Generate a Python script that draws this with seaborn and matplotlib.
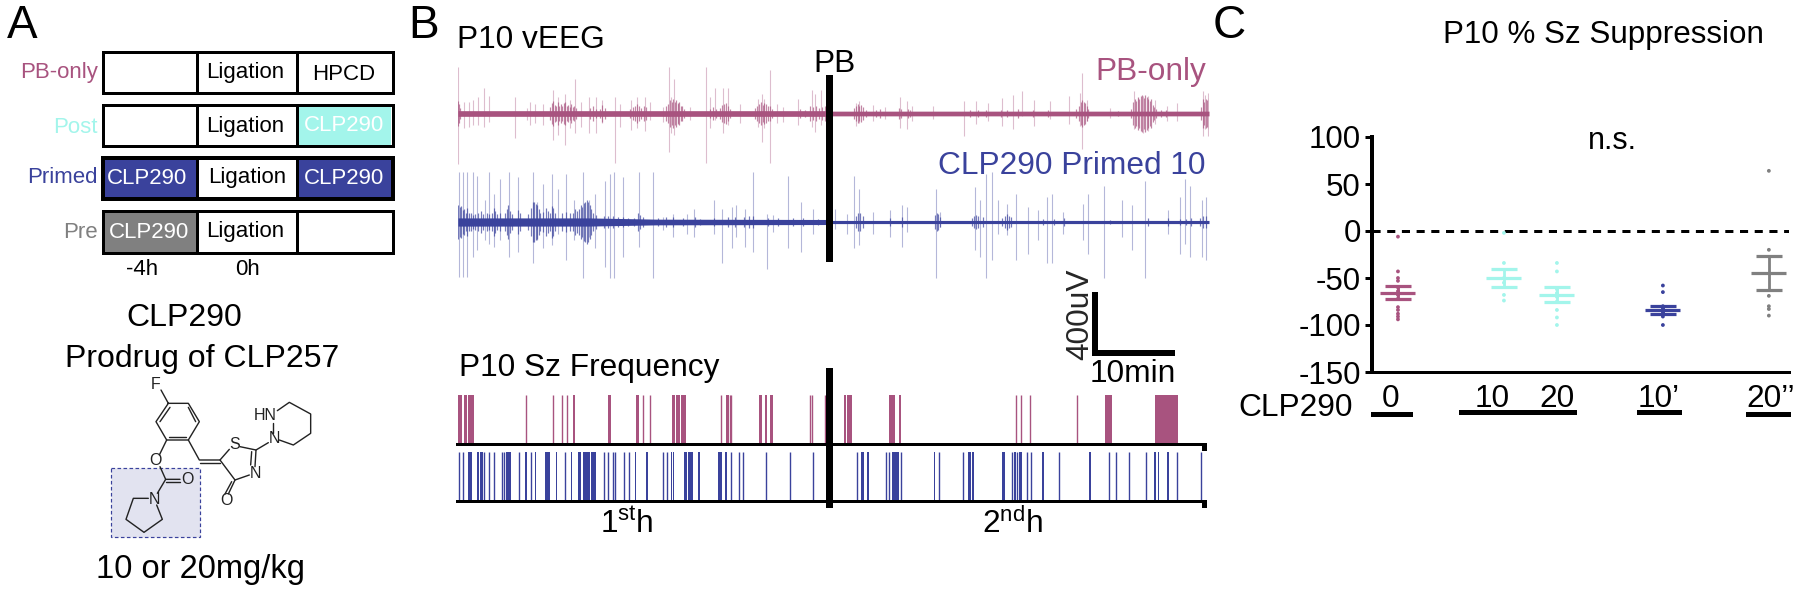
import matplotlib
matplotlib.use("Agg")
import numpy as np
import pandas as pd
import matplotlib.pyplot as plt
import seaborn as sns
from matplotlib.patches import Rectangle

PINK = "#A8537F"
BLUE = "#3A429C"
CYAN = "#A3F5EB"
GREY = "#808080"

# panel C, % seizure suppression
dose_pos = [0, 2, 3, 5, 7]
dose_colors = [PINK, CYAN, CYAN, BLUE, GREY]
supp_0 = [-6, -43, -50, -53, -60, -64, -68, -72, -81, -84, -88, -91, -94]
supp_10 = [-2, -34, -50, -55, -68, -74]
supp_20 = [-34, -43, -62, -66, -70, -75, -84, -92, -100]
supp_10p = [-58, -65, -80, -82, -84, -86, -88, -91, -100]
supp_20pp = [64, -20, -69, -80, -83, -90]
supp_mean = [-65.6, -50, -67.7, -83.7, -44.7]
supp_sem_hi = [-58.5, -40, -59.6, -79.8, -26.6]
supp_sem_lo = [-72.7, -59.6, -76, -88, -62.8]
supp_ticks = [-150, -100, -50, 0, 50, 100]

# panel B, seizure raster (time in trace units, 751 = end of recording)
pink_sz_runs = [(0.3, 3.7), (6.3, 8.7), (10.3, 16), (115.3, 117.3), (150.3, 153), (178, 181.3),
                (213.7, 217), (218, 222), (223, 227.7), (267.7, 270.7), (301.3, 304.3),
                (307.3, 309.3), (312.3, 314.7), (386, 388), (389.3, 394.3), (431.3, 437),
                (441, 443), (647.3, 653.7), (697, 719.7)]
pink_sz_single = [68, 94.7, 104.3, 109.3, 184.7, 192.3, 262.7, 271.7, 273.3, 352, 354, 366.7,
                  558.3, 562.7, 572, 619]
blue_sz_runs = [(9.7, 10.7), (11.3, 13.7), (19, 21), (22, 24.7), (48, 53), (67, 68.7), (76.7, 78),
                (87, 92.3), (98, 99.3), (112.7, 114), (120.3, 122.7), (125, 132), (133, 137.7),
                (176.7, 178.3), (188.3, 190), (212.7, 214), (215, 216.3), (226.3, 228.7),
                (229.7, 234.7), (240, 241.7), (260.3, 263.7), (266.7, 268.7), (403.3, 406.3),
                (408.7, 410.7), (433.7, 441), (475.7, 477.3), (510.3, 513), (514.3, 516.3),
                (544, 547.3), (556.3, 558), (561.3, 563.7), (584.3, 585.7), (631.3, 632.7),
                (696.3, 698.3), (699.7, 701), (708.7, 711.3)]
blue_sz_single = [1.3, 4.7, 26.3, 31.3, 36, 44, 46, 60.7, 72.7, 107.3, 146.3, 149.7, 154.7, 157.3,
                  166, 171.3, 204.7, 208.7, 273, 281, 284.7, 307.7, 331.7, 355.3, 398.7, 428, 431,
                  443.3, 480.7, 504.7, 554.3, 559.3, 569.3, 572.7, 601, 650.7, 658, 670.7, 688,
                  719.3, 743]

# panel B, EEG spikes: time, upward and downward amplitude in uV
pink_spike_t = [0.3, 6.3, 11.3, 15.3, 20.3, 26.3, 30.7, 57, 68.7, 72, 77, 85.3, 94.7, 100.3, 107, 112,
                117, 122.7, 131.3, 137.7, 144.3, 157.3, 162, 172.7, 178.7, 187, 192, 205.3, 211, 212.7,
                216, 220.3, 232, 248, 252, 257, 265.3, 269.7, 282, 300.3, 303.7, 306.3, 312, 318.7,
                325.3, 340.3, 353.7, 357, 362.7, 368,
                398, 401.3, 415.3, 427, 442, 449.3, 453.7, 475.3, 506.3, 517.7, 530.3, 543.7, 554.7,
                563.7, 576, 592, 611.3, 622, 624.3, 628.7, 652, 676, 680.3, 685.3, 690.3, 697, 708.7,
                718.7, 744.7, 747, 750.3]
pink_spike_up = [296, 74, 74, 84, 105, 164, 109, 105, 32, 74, 63, 59, 147, 105, 126, 84,
                 221, 74, 105, 105, 84, 105, 63, 84, 105, 105, 74, 42, 294, 105,
                 221, 63, 42, 294, 105, 164, 164, 164, 63, 95, 126, 95, 277, 63,
                 42, 95, 147, 126, 147, 84,
                 67, 78, 57, 42, 105, 78, 46, 46, 78, 78, 67, 99, 120,
                 141, 88, 78, 109, 130, 260, 88, 36, 141, 99, 109, 109, 88, 46,
                 67, 141, 120, 130]
pink_spike_dn = [318, 95, 84, 74, 74, 84, 53, 158, 42, 74, 63, 74, 168, 137, 200, 95,
                 126, 84, 126, 126, 63, 315, 84, 105, 95, 109, 42, 53, 242, 126,
                 137, 63, 42, 315, 95, 42, 126, 74, 63, 84, 179, 95, 315, 63,
                 53, 74, 84, 116, 74, 158,
                 80, 59, 48, 34, 90, 101, 48, 38, 143, 69, 48, 80, 101,
                 17, 80, 38, 69, 80, 227, 48, 27, 101, 80, 122, 111, 69, 48,
                 48, 143, 101, 143]
blue_spike_t = [1.3, 5.3, 9.3, 14.7, 19.3, 27, 31.3, 36, 42, 51.3, 60.3, 75.3, 78.7, 85.3, 93.7, 100.3,
                108, 116, 125.3, 131.3, 137, 147, 152, 156, 164.7, 181.3, 194.7, 205.3, 215.3, 228.7,
                236, 256, 263.7, 273.7, 278, 287, 294.7, 309.3, 315.3, 330.3, 342.7, 355.3,
                377, 388.7, 396, 401.3, 415.3, 432, 443.7, 449.3, 477.7, 482, 517, 522, 528, 533.7,
                540.3, 548.7, 558, 570.3, 580.3, 588.7, 593.7, 605.3, 625.3, 630.3, 646, 663.7, 673.7,
                687.3, 710.3, 722, 727, 732, 744.3, 747.7]
blue_spike_up = [315, 315, 315, 315, 294, 137, 315, 179, 273, 315, 284, 315, 126, 242, 305, 210,
                 305, 137, 315, 137, 179, 263, 305, 315, 284, 315, 315, 32, 53, 53,
                 84, 137, 84, 95, 105, 84, 315, 53, 42, 294, 126, 84,
                 84, 53, 294, 210, 63, 74, 105, 95, 210, 63, 221, 137, 305, 315,
                 137, 116, 179, 95, 74, 158, 179, 63, 116, 179, 231, 137, 105,
                 263, 74, 158, 273, 231, 137, 158]
blue_spike_dn = [347, 347, 347, 221, 179, 116, 137, 158, 116, 221, 189, 263, 116, 168, 147, 74,
                 242, 116, 353, 95, 168, 284, 353, 353, 221, 158, 353, 53, 95, 74,
                 95, 74, 263, 168, 95, 158, 189, 300, 63, 168, 189, 74,
                 42, 74, 168, 147, 74, 95, 158, 63, 353, 32, 179, 221, 353, 242,
                 74, 84, 242, 200, 116, 263, 263, 74, 116, 200, 353, 95, 179,
                 353, 74, 200, 137, 221, 221, 242]

# panel B, width of the trace band: time and half-height in uV
pink_band_t = [0, 372, 372.1, 751]
pink_band_amp = [18, 18, 15, 15]
blue_band_t = [0, 130, 200, 372, 372.1, 751]
blue_band_amp = [26, 26, 18, 16, 10, 10]

# panel B, short dense activity: time and half-height in uV
pink_burst_t = [0.5, 1, 2, 92, 93.5, 95, 96.5, 98, 99.5, 101, 102.5, 104, 105.5, 107, 108.5, 110, 111.5,
                113, 114.5, 116, 118, 132, 135, 138, 142, 144, 147, 172, 175, 177, 179, 181, 183, 186,
                188, 208, 210, 212, 213.5, 215, 216.5, 218, 219.5, 221, 222.5, 224, 226, 252, 255, 258,
                262, 264, 266, 268, 270, 272, 297, 299, 301, 303, 304.5, 306, 308, 310, 312, 314, 342,
                347, 352, 355, 358, 361, 364, 367, 369,
                396, 398, 399.5, 401, 403, 405, 408, 418, 422, 441, 443, 450, 452, 512, 520, 528, 543,
                549, 560, 575, 590, 618, 621, 622.5, 624, 625.5, 627, 628.5, 630, 660, 673, 675, 676.5,
                678, 679.5, 681, 682.5, 684, 685.5, 687, 688.5, 690, 691.5, 693, 694.5, 696, 698, 703,
                708, 743, 744.5, 746, 747.5, 749, 750.5]
pink_burst_amp = [80, 60, 35, 40, 65, 80, 55, 45, 70, 50, 60, 45, 65, 75, 45, 55, 40,
                  60, 40, 50, 35, 35, 45, 30, 30, 55, 35, 30, 40, 45, 60, 45, 35, 50,
                  40, 45, 60, 85, 70, 90, 75, 85, 65, 70, 50, 45, 30, 30, 40, 30,
                  35, 55, 60, 65, 45, 30, 35, 50, 60, 70, 55, 65, 60, 45, 50, 30, 30,
                  25, 45, 40, 50, 35, 40, 45, 35,
                  35, 50, 60, 45, 55, 40, 25, 25, 30, 35, 30, 30, 25, 20, 25, 20, 25,
                  25, 30, 20, 20, 30, 50, 70, 85, 75, 65, 45, 30, 15, 30, 70, 95,
                  80, 105, 90, 110, 120, 100, 115, 105, 95, 80, 90, 55, 40, 30, 25,
                  25, 40, 90, 70, 95, 85, 100]
blue_burst_t = [0.5, 2, 3.5, 5, 6.5, 8, 9.5, 11, 13, 15, 17, 20, 23, 25, 29, 31, 34, 36, 37.5, 39, 42, 47,
                49, 50.5, 52, 54, 60, 62, 70, 73, 74.5, 76, 77.5, 79, 80.5, 82, 85, 88, 89.5, 92, 93.5,
                95, 97, 104, 108, 112, 115, 117, 119, 121, 122.5, 124, 125.5, 127, 128.5, 130, 131.5,
                133, 135, 138, 146, 150, 155, 160, 165, 170, 176, 180, 182, 185, 200, 208, 215, 225,
                237, 242, 256, 270, 277, 286, 291, 295, 310, 320, 335, 345, 360,
                398, 400, 402, 405, 432, 444, 477, 478.5, 480, 482, 514, 516, 518, 520, 525, 544, 547,
                549, 551, 553, 585, 596, 606, 652, 690, 710, 722, 728, 733, 742, 745, 748]
blue_burst_amp = [110, 95, 100, 75, 85, 60, 90, 55, 60, 45, 50, 55, 70, 50, 55, 50, 55, 90, 70, 50, 55, 55,
                  85, 105, 70, 50, 75, 60, 50, 90, 125, 130, 115, 105, 80, 55, 65, 90, 70, 60, 100,
                  90, 55, 55, 65, 60, 60, 80, 70, 85, 110, 95, 120, 130, 140, 125, 105,
                  85, 55, 45, 40, 35, 40, 30, 30, 25, 25, 55, 45, 30, 25, 30, 30, 25,
                  30, 20, 25, 30, 30, 30, 40, 35, 25, 25, 25, 25, 20,
                  40, 60, 55, 35, 25, 30, 45, 60, 50, 30, 25, 35, 45, 40, 30, 25, 35,
                  50, 40, 30, 20, 20, 25, 15, 25, 25, 20, 20, 25, 25, 40, 35]

# panel A schedule
schedule_labels = ["PB-only", "Post", "Primed", "Pre"]
schedule_colors = [PINK, CYAN, BLUE, GREY]

sns.set_theme(style="white")
plt.rcParams["font.family"] = ["Liberation Sans", "DejaVu Sans"]
plt.rcParams["axes.unicode_minus"] = False
plt.rcParams["mathtext.fontset"] = "custom"
plt.rcParams["mathtext.rm"] = "Liberation Sans"

W, H = 1800, 591
PT = 0.72  # one pixel in points at dpi 100
fig = plt.figure(figsize=(W / 100, H / 100), dpi=100)


def px_axes(x0, y0, x1, y1):
    return fig.add_axes([x0 / W, 1 - y1 / H, (x1 - x0) / W, (y1 - y0) / H])


# EEG traces
def draw_trace(box, ylim, t, up, dn, burst_t, burst_amp, band_t, band_amp, color):
    ax = px_axes(*box)
    burst_amp = np.array(burst_amp)
    band_amp = np.array(band_amp)
    ax.vlines(t, -np.array(dn), up, color=color, lw=1.1 * PT, alpha=0.38)
    ax.vlines(burst_t, -burst_amp, burst_amp, color=color, lw=1.2 * PT, alpha=0.7)
    ax.fill_between(band_t, -band_amp, band_amp, color=color, lw=0)
    ax.set_xlim(0, 751)
    ax.set_ylim(*ylim)
    ax.axis("off")
    return ax


draw_trace((458, 60, 1209, 170), (-359, 340), pink_spike_t, pink_spike_up, pink_spike_dn,
           pink_burst_t, pink_burst_amp, pink_band_t, pink_band_amp, PINK)
draw_trace((458, 165, 1209, 285), (-400, 362), blue_spike_t, blue_spike_up, blue_spike_dn,
           blue_burst_t, blue_burst_amp, blue_band_t, blue_band_amp, BLUE)


# seizure rasters
def draw_raster(box, runs, single, color):
    ax = px_axes(*box)
    sns.rugplot(x=single, ax=ax, height=1, color=color, lw=1.3 * PT, expand_margins=False)
    ax.broken_barh([(a, b - a) for a, b in runs], (0, 1), color=color, lw=0)
    ax.set_xlim(0, 751)
    ax.set_ylim(0, 1)
    ax.axis("off")


draw_raster((458, 395, 1209, 444), pink_sz_runs, pink_sz_single, PINK)
draw_raster((458, 452, 1209, 502), blue_sz_runs, blue_sz_single, BLUE)

# panel C
ax_c = px_axes(1372, 137, 1789, 372)
supp_df = pd.concat([
    pd.DataFrame({"dose": pos, "supp": vals})
    for pos, vals in zip(dose_pos, [supp_0, supp_10, supp_20, supp_10p, supp_20pp])
])
sns.stripplot(data=supp_df, x="dose", y="supp", hue="dose", palette=dict(zip(dose_pos, dose_colors)),
              native_scale=True, jitter=False, size=3.8 * PT, linewidth=0, legend=False, ax=ax_c)
for pos, mean, hi, lo, color in zip(dose_pos, supp_mean, supp_sem_hi, supp_sem_lo, dose_colors):
    ax_c.errorbar(pos, mean, yerr=[[mean - lo], [hi - mean]], color=color, capsize=13 * PT,
                  capthick=3.2 * PT, elinewidth=2.8 * PT)
    ax_c.hlines(mean, pos - 0.33, pos + 0.33, color=color, lw=3.2 * PT)
ax_c.axhline(0, color="black", lw=3 * PT, dashes=(2.7, 2.2))
ax_c.set_xlim(-0.49, 7.38)
ax_c.set_ylim(-150, 100)
ax_c.set_yticks(supp_ticks)
ax_c.set_xticks([])
ax_c.set_xlabel("")
ax_c.set_ylabel("")
ax_c.tick_params(axis="y", left=True, length=5, width=3 * PT, labelsize=22.5, pad=3, colors="black")
ax_c.patch.set_alpha(0)
sns.despine(ax=ax_c)
ax_c.spines["left"].set_linewidth(4 * PT)
ax_c.spines["bottom"].set_linewidth(3 * PT)
ax_c.spines["left"].set_color("black")
ax_c.spines["bottom"].set_color("black")

# overlay in pixel coordinates for the schematic and the annotations
ov = fig.add_axes([0, 0, 1, 1], zorder=5)
ov.set_xlim(0, W)
ov.set_ylim(H, 0)
ov.axis("off")
ov.patch.set_alpha(0)


def label(x, y, s, size=22.8, color="black", ha="center", **kw):
    ov.text(x, y, s, fontsize=size, color=color, ha=ha, va="baseline", **kw)


def bar(x0, x1, y0, y1, color="black", **kw):
    ov.add_patch(Rectangle((x0, y0), x1 - x0, y1 - y0, facecolor=color, edgecolor="none", **kw))


def stroke(points, lw=1.4, color="#222222", origin=(0, 290)):
    pts = np.array(points) / 3 + np.array(origin)
    ov.plot(pts[:, 0], pts[:, 1], color=color, lw=lw * PT, solid_capstyle="round")


label(7, 38, "A", 33, ha="left")
label(408, 38, "B", 33, ha="left")
label(1213, 38, "C", 33, ha="left")

# schedule rows
row_y = [(52, 93), (105, 146), (158, 199), (211, 253)]
for i, (lab, col, (y0, y1)) in enumerate(zip(schedule_labels, schedule_colors, row_y)):
    x0, x1 = (103, 393)
    if i == 1:
        bar(298, 391, y0, y1, CYAN)
    if i == 2:
        bar(104, 197, y0, y1, BLUE)
        bar(298, 392, y0, y1, BLUE)
    if i == 3:
        bar(102, 197, y0, y1, GREY)
    lw = 4 if i == 2 else 3
    ov.add_patch(Rectangle((x0, y0), x1 - x0, y1 - y0, fill=False, edgecolor="black", lw=lw * PT))
    ov.plot([197, 197], [y0, y1], color="black", lw=3 * PT)
    ov.plot([297, 297], [y0, y1], color="black", lw=3 * PT)
    label(98, [78, 133, 183, 238][i], lab, 16, col, ha="right")
for x, y in [(245, 78), (245, 132), (247, 183), (245, 237)]:
    label(x, y, "Ligation", 16)
label(344, 80, "HPCD", 16)
label(344, 131, "CLP290", 16, "white")
label(147, 184, "CLP290", 16, "white")
label(344, 184, "CLP290", 16, "white")
label(149, 238, "CLP290", 16, "white")
label(142, 275, "-4h", 16)
label(247, 275, "0h", 16)

label(184, 326, "CLP290", 23)
label(202, 367, "Prodrug of CLP257", 23)
label(200, 578, "10 or 20mg/kg", 23.5)

# CLP290 structure
ov.add_patch(Rectangle((111, 468), 89, 69, facecolor="#E2E3F0", edgecolor=BLUE, lw=1.2 * PT, ls=(0, (3, 2))))
for seg in [
    [(483, 300), (505, 340), (565, 340), (598, 395), (565, 450), (500, 450), (468, 395), (505, 340)],
    [(510, 352), (480, 395)], [(565, 352), (587, 395)], [(558, 440), (508, 440)],
    [(500, 450), (478, 495)], [(480, 530), (497, 568), (540, 568)], [(497, 576), (540, 576)],
    [(497, 568), (472, 610)],
    [(445, 625), (400, 625), (378, 688), (432, 727), (487, 688), (470, 645)],
    [(565, 450), (598, 510), (660, 510), (688, 478)], [(600, 518), (660, 518)],
    [(720, 470), (768, 480), (765, 530)], [(755, 485), (752, 525)],
    [(748, 555), (705, 570), (660, 510)], [(705, 570), (685, 612)], [(695, 575), (675, 612)],
    [(768, 480), (805, 458)], [(820, 428), (820, 400)],
    [(832, 362), (868, 337), (932, 372), (932, 430), (880, 465), (838, 450)],
]:
    stroke(seg)
for x, y, s in [(467, 283, "F"), (465, 512, "O"), (563, 570, "O"), (462, 628, "N"), (703, 463, "S"),
                (765, 550, "N"), (680, 632, "O"), (822, 445, "N"), (797, 378, "HN")]:
    ov.text(x / 3, 290 + y / 3, s, fontsize=11.5, color="#222222", ha="center", va="center")

# panel B annotations
label(457, 48, "P10 vEEG", ha="left")
label(834, 72, "PB")
label(1206, 80, "PB-only", color=PINK, ha="right")
label(1206, 174, "CLP290 Primed 10", color=BLUE, ha="right")
label(459, 376, "P10 Sz Frequency", ha="left")
bar(826, 833, 75, 262)
bar(826, 833, 368, 508)
bar(1092, 1098, 292, 356)
bar(1092, 1175, 350, 356)
ov.text(1088, 360, "400uV", fontsize=22.8, rotation=90, ha="left", va="baseline", rotation_mode="anchor")
label(1133, 382, "10min")
bar(456, 1207, 443, 446)
bar(456, 1207, 500, 503)
bar(1202, 1207, 443, 451)
bar(1202, 1207, 500, 508)
label(627, 533, r"1$\mathregular{^{st}}$h")
label(1012, 533, r"2$\mathregular{^{nd}}$h")

# panel C annotations
label(1603, 43, "P10 % Sz Suppression", 22.6)
label(1612, 149, "n.s.", 22)
label(1238, 416, "CLP290", ha="left")
for x, s in [(1391, "0"), (1492, "10"), (1557, "20"), (1659, "10’"), (1771, "20’’")]:
    label(x, 407, s)
bar(1371, 1413, 412, 417)
bar(1459, 1577, 410, 415)
bar(1637, 1682, 410, 415)
bar(1746, 1791, 412, 417)

fig.savefig("out.png", dpi=100)
